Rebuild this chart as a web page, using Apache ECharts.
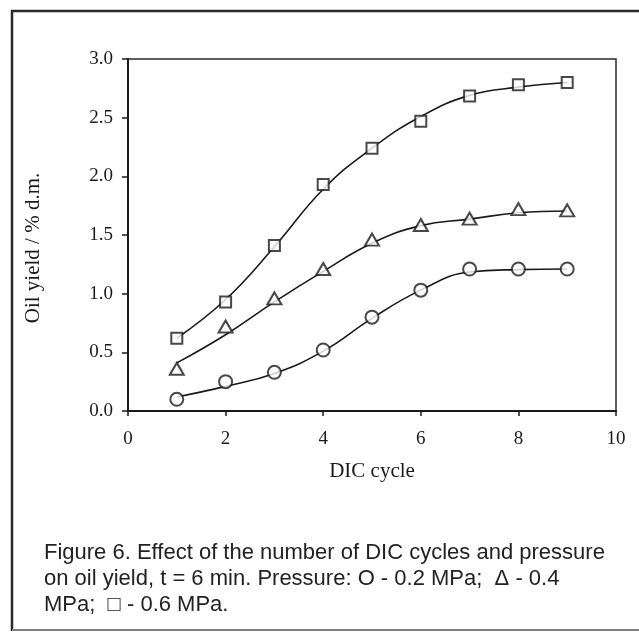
<!DOCTYPE html>
<html>
<head>
<meta charset="utf-8">
<script src="https://cdn.jsdelivr.net/npm/echarts@6/dist/echarts.min.js"></script>
<style>
html,body{margin:0;padding:0;background:#fff;}
#chart{width:639px;height:632px;}
</style>
</head>
<body>
<div id="chart"></div>
<script>
const cycles = [1, 2, 3, 4, 5, 6, 7, 8, 9];
const yield02 = [0.10, 0.25, 0.33, 0.52, 0.80, 1.03, 1.21, 1.21, 1.21];
const yield04 = [0.36, 0.72, 0.96, 1.21, 1.46, 1.585, 1.64, 1.72, 1.71];
const yield06 = [0.62, 0.93, 1.41, 1.93, 2.24, 2.47, 2.685, 2.78, 2.80];
const fit02 = [0.12, 0.21, 0.32, 0.51, 0.79, 1.03, 1.185, 1.205, 1.21];
const fit04 = [0.41, 0.65, 0.93, 1.19, 1.43, 1.58, 1.635, 1.69, 1.705];
const fit06 = [0.62, 0.95, 1.40, 1.89, 2.24, 2.51, 2.69, 2.76, 2.80];
const xTitle = 'DIC cycle';
const yTitle = 'Oil yield / % d.m.';
const captionLines = [
  'Figure 6. Effect of the number of DIC cycles and pressure',
  'on oil yield, t = 6 min. Pressure: O - 0.2 MPa;  \u0394 - 0.4',
  'MPa;  \u25A1 - 0.6 MPa.'
];

const pairs = (xs, ys) => xs.map((x, i) => [x, ys[i]]);
const ink = '#1a1a1a';
const serif = 'Liberation Serif, Times New Roman, serif';

function pointSeries(name, data, symbol, size) {
  return {
    name: name, type: 'scatter', data: pairs(cycles, data),
    symbol: symbol, symbolSize: size, z: 5,
    itemStyle: { color: '#fff', borderColor: ink, borderWidth: 2 }
  };
}
function fitSeries(data) {
  return {
    type: 'line', data: pairs(cycles, data), smooth: 0.45,
    showSymbol: false, symbol: 'none', z: 3,
    lineStyle: { color: ink, width: 1.6 }
  };
}

const chart = echarts.init(document.getElementById('chart'));
chart.setOption({
  animation: false,
  backgroundColor: '#fff',
  grid: { left: 128, right: 23, top: 59, bottom: 221, show: true, borderColor: '#2a2a2a', borderWidth: 1.5 },
  xAxis: {
    type: 'value', min: 0, max: 10, interval: 2,
    name: xTitle, nameLocation: 'middle', nameGap: 50,
    nameTextStyle: { fontFamily: serif, fontSize: 21, color: ink },
    axisLine: { show: true, lineStyle: { color: ink, width: 2 } },
    axisTick: { show: true, inside: false, length: 5, lineStyle: { color: ink, width: 1.5 } },
    axisLabel: { fontFamily: serif, fontSize: 19, color: ink, margin: 19 },
    splitLine: { show: false }
  },
  yAxis: {
    type: 'value', min: 0, max: 3, interval: 0.5,
    axisLine: { show: true, lineStyle: { color: ink, width: 2 } },
    axisTick: { show: true, inside: false, length: 6, lineStyle: { color: ink, width: 1.5 } },
    axisLabel: { fontFamily: serif, fontSize: 19, color: ink, margin: 15, formatter: v => v.toFixed(1) },
    splitLine: { show: false }
  },
  series: [
    fitSeries(fit02), fitSeries(fit04), fitSeries(fit06),
    pointSeries('0.2 MPa', yield02, 'circle', 13),
    pointSeries('0.4 MPa', yield04, 'triangle', [14, 12]),
    pointSeries('0.6 MPa', yield06, 'rect', 11)
  ],
  graphic: [
    { type: 'line', shape: { x1: 12, y1: 10, x2: 12, y2: 631 }, style: { stroke: '#2a2a2a', lineWidth: 2.5 } },
    { type: 'line', shape: { x1: 11, y1: 11, x2: 639, y2: 11 }, style: { stroke: '#2a2a2a', lineWidth: 2.5 } },
    { type: 'line', shape: { x1: 12, y1: 630, x2: 639, y2: 630 }, style: { stroke: '#808080', lineWidth: 2 } },
    { type: 'text', x: 33, y: 248, rotation: Math.PI / 2,
      style: { text: yTitle, fontFamily: serif, fontSize: 21, fill: ink, textAlign: 'center', textVerticalAlign: 'middle' } },
    { type: 'text', left: 44, top: 540,
      style: { text: captionLines.join('\n'), fontFamily: 'Liberation Sans, Arial, sans-serif', fontSize: 22, lineHeight: 26, fill: '#222' } }
  ]
});
</script>
</body>
</html>
